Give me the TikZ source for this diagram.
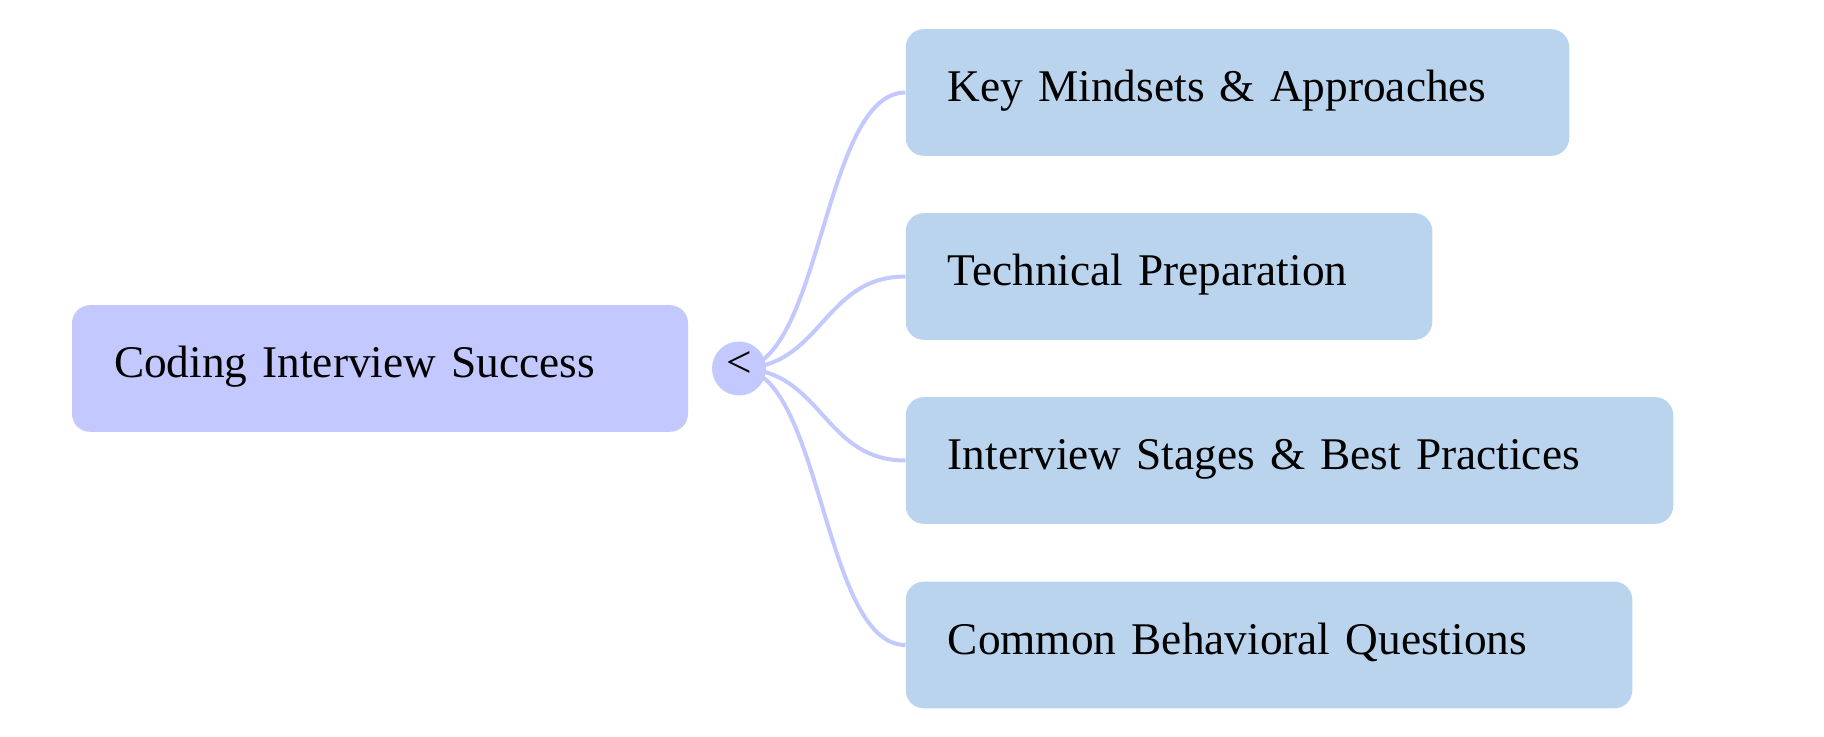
\documentclass[tikz,border=0pt]{standalone}
\usepackage{fontspec}
\setmainfont{Liberation Serif}

\definecolor{rootfill}{HTML}{C3C9FE}
\definecolor{topicfill}{HTML}{BBD4EE}
\definecolor{linkcolor}{HTML}{C3C9FE}

\tikzset{
	mapbox/.style={rectangle, rounded corners=13.5pt, draw=none, inner xsep=31.5pt, inner ysep=0pt,
		minimum height=95pt, align=left, text height=23.8pt, text depth=10.2pt,
		font=\fontsize{34}{40}\selectfont},
	rootbox/.style={mapbox, fill=rootfill},
	topicbox/.style={mapbox, fill=topicfill, anchor=west},
	fold/.style={circle, fill=rootfill, inner sep=0pt, minimum size=40.5pt, text depth=6pt,
		font=\fontsize{34}{40}\selectfont},
	link/.style={draw=linkcolor, line width=3pt}
}

\begin{document}
\begin{tikzpicture}[x=0.75pt,y=0.75pt,yscale=-1,xscale=1]
	\useasboundingbox (0,0) rectangle (1824,737);

	% Root Node
	\node [rootbox, text width=399pt] (root) at (380,368.5) {Coding Interview Success};

	% Topic Nodes
	\node [topicbox, text width=434.6pt] (mindsets) at (905.5,92.5) {Key Mindsets \& Approaches};
	\node [topicbox, text width=331.9pt] (technical) at (905.5,276.5) {Technical Preparation};
	\node [topicbox, text width=512.6pt] (stages) at (905.5,460.5) {Interview Stages \& Best Practices};
	\node [topicbox, text width=481.9pt] (behavioral) at (905.5,645) {Common Behavioral Questions};

	% Links
	\coordinate (hub) at (739,368.5);
	\foreach \t in {mindsets,technical,stages,behavioral}
		\draw [link] (hub) .. controls +(83,0) and +(-83,0) .. (\t.west);

	% Fold Marker
	\node [fold] (foldmark) at (hub) {<};

\end{tikzpicture}
\end{document}
